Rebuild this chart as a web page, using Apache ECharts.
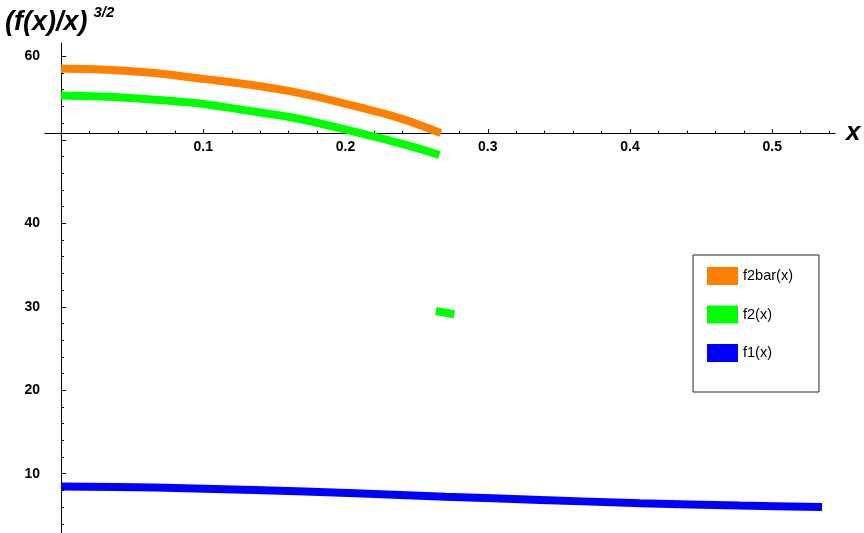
<!DOCTYPE html>
<html>
<head>
<meta charset="utf-8">
<title>(f(x)/x)^(3/2)</title>
<script src="https://cdn.jsdelivr.net/npm/echarts@6/dist/echarts.min.js"></script>
<style>
  html, body { margin: 0; padding: 0; background: #fff; }
  #chart { width: 864px; height: 533px; }
</style>
</head>
<body>
<div id="chart"></div>
<script>
// data
const f2barX = [0, 0.033, 0.066, 0.1, 0.133, 0.168, 0.203, 0.238, 0.267]
const f2barY = [58.55, 58.4, 58.0, 57.3, 56.6, 55.6, 54.2, 52.6, 50.8]

const f2X = [0, 0.033, 0.066, 0.1, 0.133, 0.168, 0.203, 0.238, 0.266]
const f2Y = [55.3, 55.15, 54.8, 54.3, 53.45, 52.5, 51.1, 49.6, 48.2]
// short piece of f2 after the jump
const f2JumpX = [0.2635, 0.2765]
const f2JumpY = [29.5, 29.1]

const f1X = [0, 0.066, 0.136, 0.207, 0.27, 0.337, 0.407, 0.477, 0.535]
const f1Y = [8.46, 8.34, 8.06, 7.66, 7.25, 6.86, 6.47, 6.18, 6.02]

// ticks
const xMajor = [0.1, 0.2, 0.3, 0.4, 0.5]
const xMinor = [0.02, 0.04, 0.06, 0.08, 0.12, 0.14, 0.16, 0.18, 0.22, 0.24, 0.26, 0.28,
  0.32, 0.34, 0.36, 0.38, 0.42, 0.44, 0.46, 0.48, 0.52, 0.54]
const yMajor = [10, 20, 30, 40, 50, 60]
const yLabels = [10, 20, 30, 40, 60]
const yMinor = [4, 6, 8, 12, 14, 16, 18, 22, 24, 26, 28, 32, 34, 36, 38, 42, 44, 46, 48,
  52, 54, 56, 58]

const X_MIN = -0.0113
const X_MAX = 0.5441
const Y_MIN = 2.9
const Y_MAX = 61.6
const X_AXIS_AT = 50.8 // horizontal axis crosses the y axis here

const FONT = 'Liberation Sans, Arial, sans-serif'
const GRID = { left: 45, right: 29, top: 43, bottom: 0 }
const gridHeight = 533 - GRID.top - GRID.bottom
const xAxisOffset = -(Y_MAX - X_AXIS_AT) / (Y_MAX - Y_MIN) * gridHeight

const zip = (xs, ys) => xs.map((x, i) => [x, ys[i]])

const chart = echarts.init(document.getElementById('chart'))

const baseX = {
  type: 'value',
  min: X_MIN,
  max: X_MAX,
  position: 'top',
  offset: xAxisOffset,
  splitLine: { show: false },
  axisLine: { onZero: false, lineStyle: { color: '#000', width: 1 } }
}
const baseY = {
  type: 'value',
  min: Y_MIN,
  max: Y_MAX,
  position: 'left',
  splitLine: { show: false },
  axisLine: { onZero: true, onZeroAxisIndex: 0, lineStyle: { color: '#000', width: 1 } }
}

const lineSeries = (name, color, data) => ({
  name,
  type: 'line',
  data,
  color,
  showSymbol: false,
  smooth: 0.3,
  lineStyle: { width: 8, color },
  z: 3
})

chart.setOption({
  animation: false,
  backgroundColor: '#fff',
  title: {
    text: '{a|(f(x)/x)}{b|3/2}',
    left: 0,
    top: 0,
    textStyle: {
      rich: {
        a: { fontFamily: FONT, fontSize: 27, fontWeight: 'bold', fontStyle: 'italic', color: '#000', lineHeight: 36 },
        b: { fontFamily: FONT, fontSize: 15, fontWeight: 'bold', fontStyle: 'italic', color: '#000', verticalAlign: 'top', padding: [0, 0, 0, 6] }
      }
    }
  },
  legend: {
    data: ['f2bar(x)', 'f2(x)', 'f1(x)'],
    orient: 'vertical',
    left: 693,
    top: 255,
    icon: 'rect',
    itemWidth: 31,
    itemHeight: 18,
    itemGap: 20.5,
    itemTextGap: 8,
    padding: [12, 26, 30, 14],
    borderColor: '#222',
    borderWidth: 1,
    selectedMode: false,
    textStyle: { fontFamily: FONT, fontSize: 14.5, color: '#000' }
  },
  grid: GRID,
  xAxis: [
    {
      ...baseX,
      name: 'x',
      nameLocation: 'end',
      nameGap: 11,
      nameTextStyle: { fontFamily: FONT, fontSize: 26, fontWeight: 'bold', fontStyle: 'italic', color: '#000', verticalAlign: 'middle' },
      axisTick: { show: true, inside: false, length: 4, customValues: xMajor, lineStyle: { color: '#000' } },
      axisLabel: {
        inside: true,
        margin: 7,
        customValues: xMajor,
        formatter: v => v.toFixed(1),
        fontFamily: FONT,
        fontSize: 14,
        fontWeight: 'bold',
        color: '#000'
      }
    },
    {
      ...baseX,
      axisLine: { show: false, onZero: false },
      axisTick: { show: true, inside: false, length: 2.5, customValues: xMinor, lineStyle: { color: '#000' } },
      axisLabel: { show: false }
    }
  ],
  yAxis: [
    {
      ...baseY,
      axisTick: { show: true, inside: true, length: 5, customValues: yMajor, lineStyle: { color: '#000' } },
      axisLabel: {
        margin: 5,
        customValues: yLabels,
        fontFamily: FONT,
        fontSize: 14,
        fontWeight: 'bold',
        color: '#000'
      }
    },
    {
      ...baseY,
      axisLine: { show: false, onZero: true, onZeroAxisIndex: 0 },
      axisTick: { show: true, inside: true, length: 3, customValues: yMinor, lineStyle: { color: '#000' } },
      axisLabel: { show: false }
    }
  ],
  series: [
    lineSeries('f2bar(x)', '#FF8000', zip(f2barX, f2barY)),
    // the '-' point breaks the line at the jump
    lineSeries('f2(x)', '#00FF00', zip(f2X, f2Y).concat([[f2X[f2X.length - 1], '-']], zip(f2JumpX, f2JumpY))),
    lineSeries('f1(x)', '#0000FF', zip(f1X, f1Y))
  ]
})
</script>
</body>
</html>
